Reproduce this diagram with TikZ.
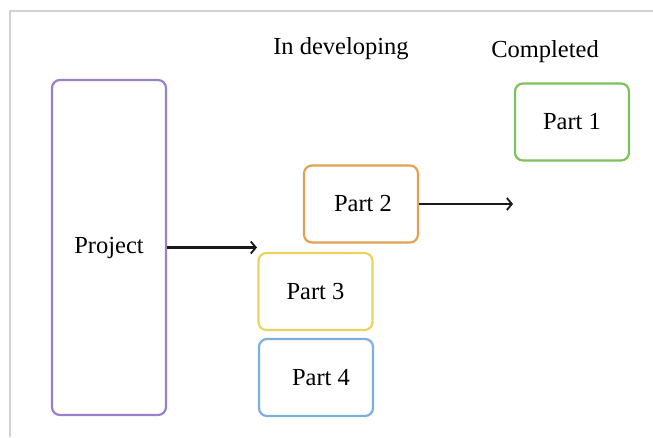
\documentclass[tikz,border=0pt]{standalone}
\usepackage{fontspec}
\setmainfont{Liberation Serif}
\usetikzlibrary{arrows.meta}
\definecolor{projcol}{HTML}{9A80C8}
\definecolor{p1col}{HTML}{7CC25A}
\definecolor{p2col}{HTML}{E2A24E}
\definecolor{p3col}{HTML}{EAD45E}
\definecolor{p4col}{HTML}{7CAEE2}
\begin{document}
\begin{tikzpicture}[x=1pt,y=-1pt,
  partbox/.style={draw, line width=2.2pt, rounded corners=8pt, minimum width=114pt, minimum height=77pt, inner sep=0pt},
  label/.style={inner sep=0pt},
  flow/.style={line width=2.2pt, draw=black!90, -{Straight Barb[length=5pt,width=12pt,line width=1.8pt]}},
  every node/.style={font=\fontsize{24.5}{28}\selectfont}]
  \useasboundingbox (0,0) rectangle (653,437);
  % frame lines
  \draw[line width=2pt, black!18] (653,11) -- (10,11) -- (10,437);
  % column titles
  \node[label] (dev) at (341,49) {In developing};
  \node[label] (done) at (545,52) {Completed};
  % boxes
  \node[partbox, draw=projcol, minimum width=114pt, minimum height=335pt] (proj) at (109,247.5) {Project};
  \node[partbox, draw=p1col] (p1) at (572,122) {Part 1};
  \node[partbox, draw=p2col] (p2) at (361,204) {\hspace*{4pt}Part 2};
  \node[partbox, draw=p3col] (p3) at (315.5,291.5) {Part 3};
  \node[partbox, draw=p4col] (p4) at (316,377.5) {\hspace*{10pt}Part 4};
  % arrows
  \coordinate (a1) at (257,247.5);
  \coordinate (a2) at (513,204);
  \draw[flow] (proj.east) -- (a1);
  \draw[flow] (p2.east) -- (a2);
\end{tikzpicture}
\end{document}
